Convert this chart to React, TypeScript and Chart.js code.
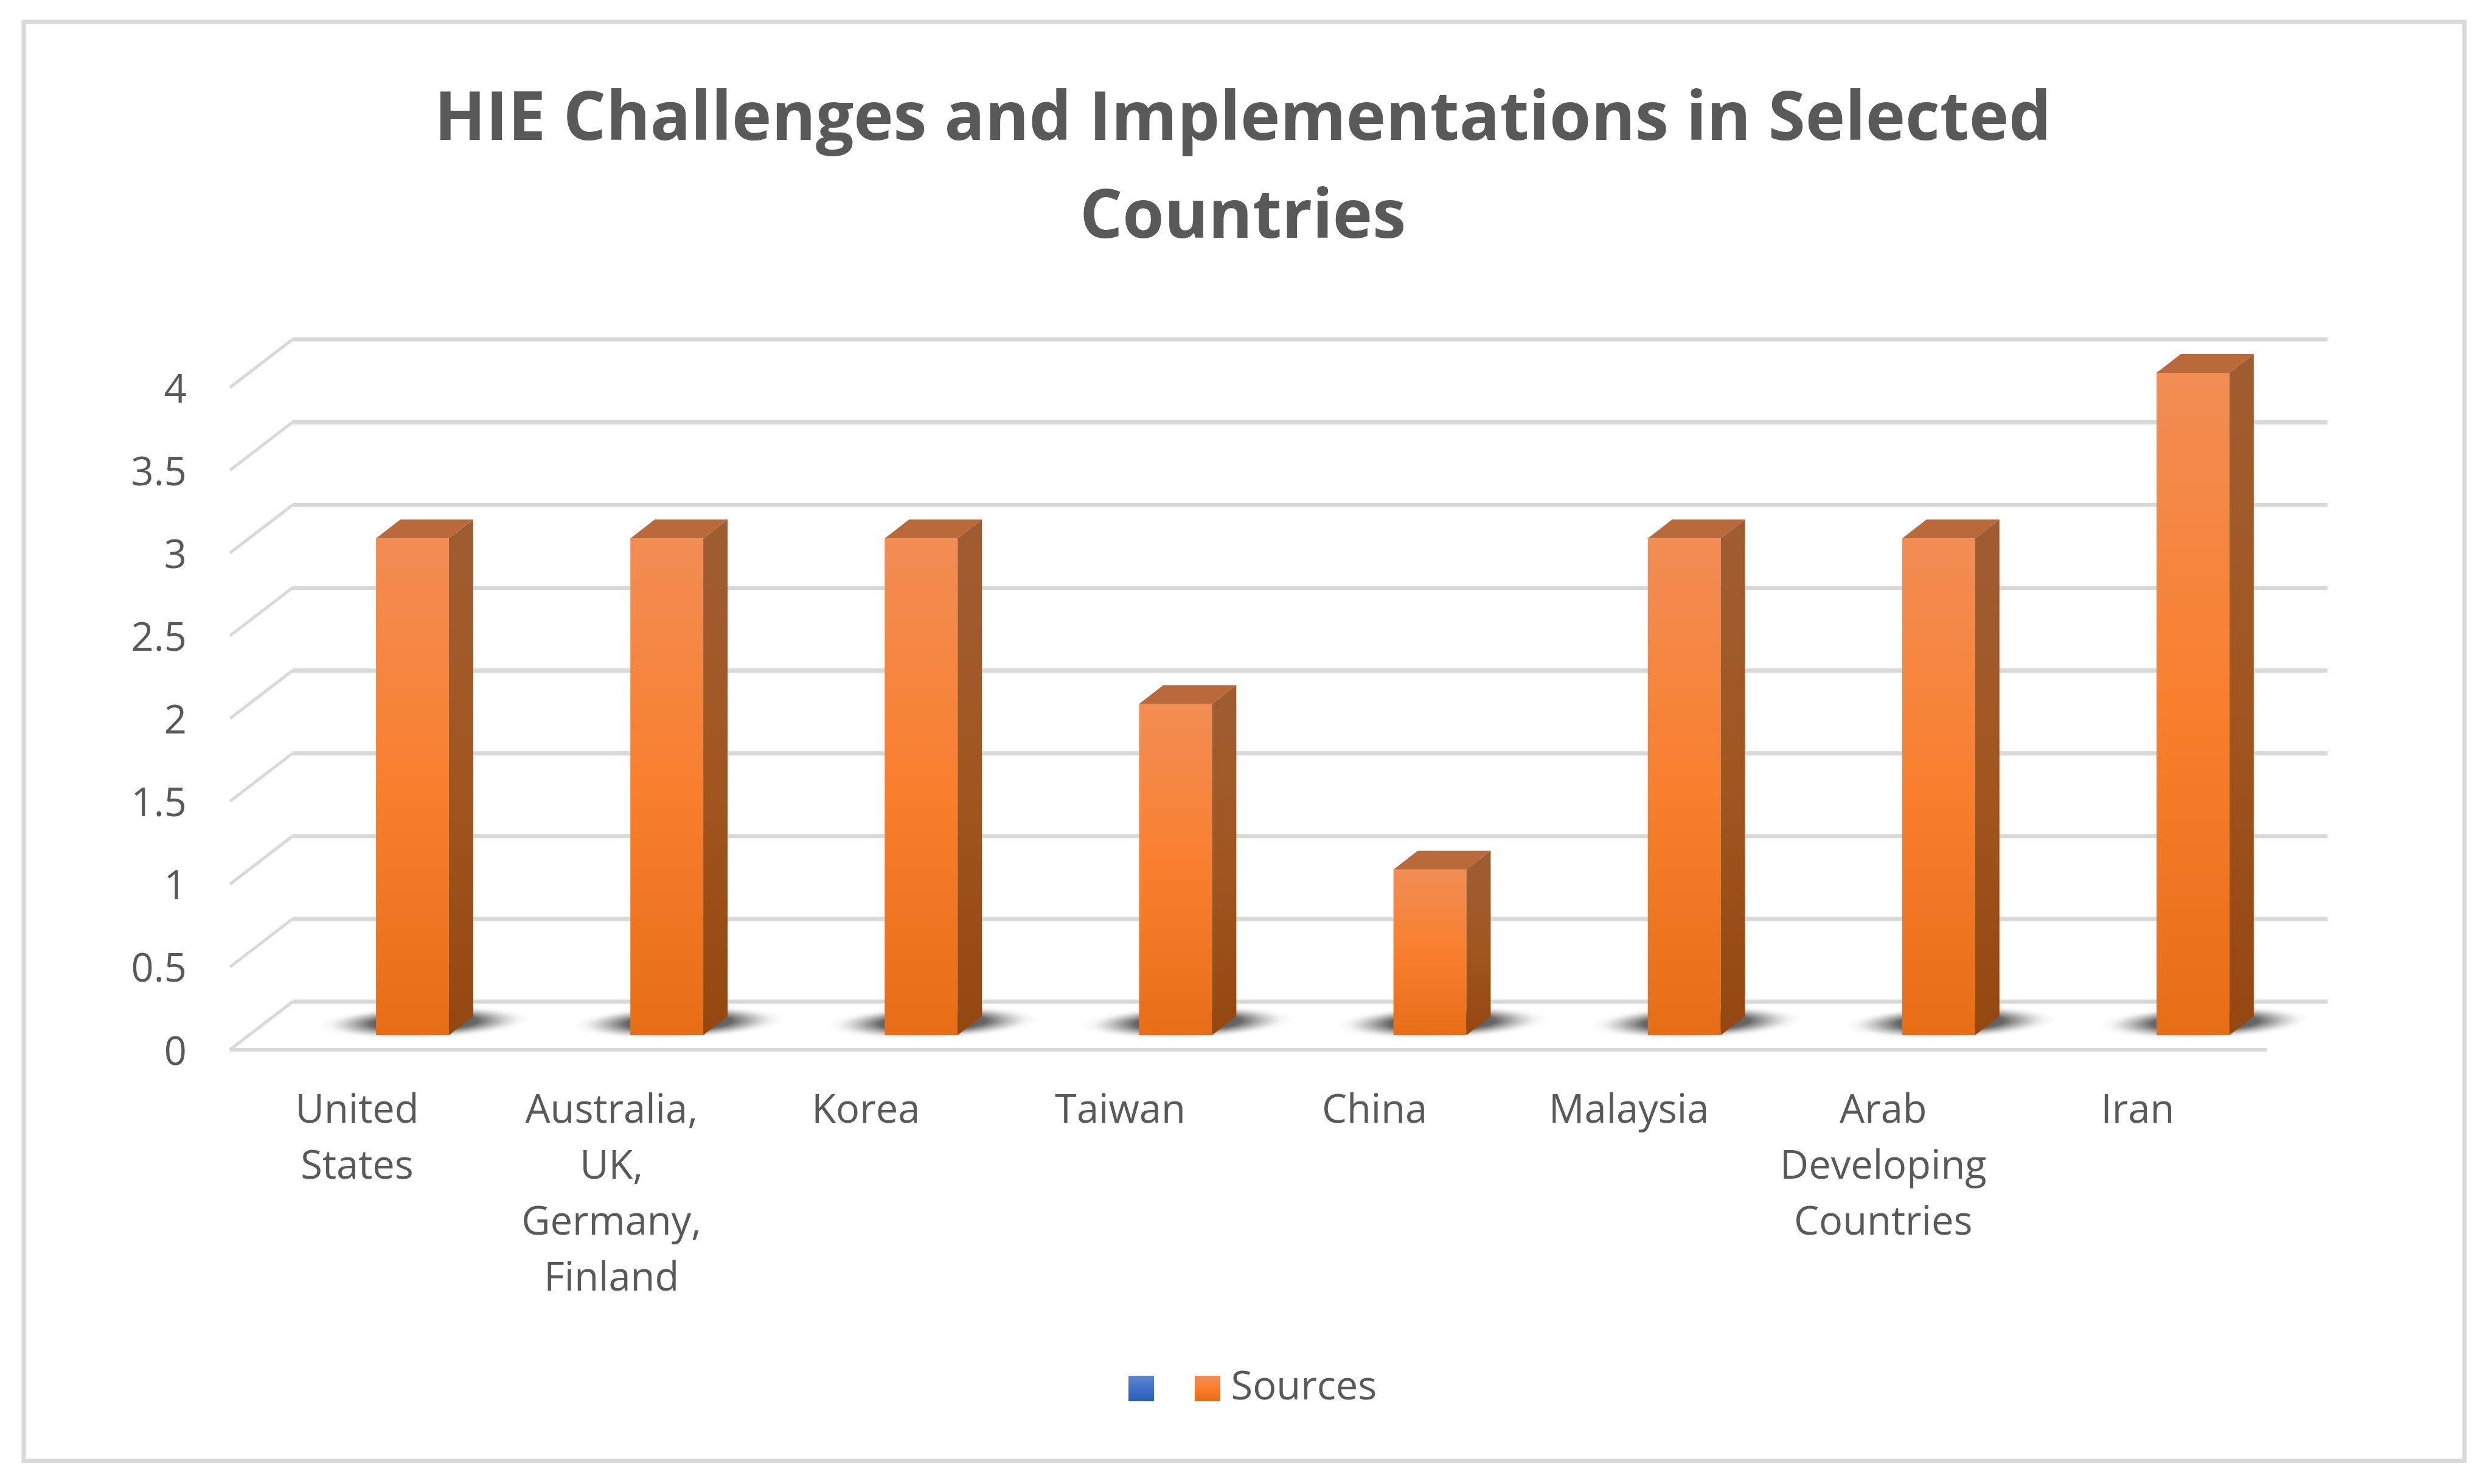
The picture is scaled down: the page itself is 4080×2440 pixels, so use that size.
import React, { useEffect, useRef } from "react";
import { Chart, registerables } from "chart.js";

Chart.register(...registerables);

const categories: (string | string[])[] = [
  ["United", "States"],
  ["Australia,", "UK,", "Germany,", "Finland"],
  "Korea",
  "Taiwan",
  "China",
  "Malaysia",
  ["Arab", "Developing", "Countries"],
  "Iran",
];
const emptySeries: (number | null)[] = [null, null, null, null, null, null, null, null];
const sourcesSeries = [3, 3, 3, 2, 1, 3, 3, 4];
const titleLines = ["HIE Challenges and Implementations in Selected", "Countries"];
const seriesNames = [" ", "Sources"];

const FONT = "'Open Sans', 'Noto Sans', sans-serif";
const TEXT = "#595959";
const GRID = "#d9d9d9";
const PLOT_RIGHT = 3723;
const WALL = { dx: 103, dy: -79 };
const BAR_SHIFT = { dx: 31, dy: -24 };
const BAR_DEPTH = { dx: 40, dy: -31 };
const LEGEND_BOX = 42;

function legendSwatch(stops: string[]) {
  const c = document.createElement("canvas");
  c.width = LEGEND_BOX;
  c.height = LEGEND_BOX;
  const x = c.getContext("2d")!;
  const g = x.createLinearGradient(0, 0, 0, LEGEND_BOX);
  g.addColorStop(0, stops[0]);
  g.addColorStop(0.5, stops[1]);
  g.addColorStop(1, stops[2]);
  x.fillStyle = g;
  x.fillRect(0, 0, LEGEND_BOX, LEGEND_BOX);
  return c;
}

const frame3d = {
  id: "frame3d",
  beforeDraw(chart: any) {
    const { ctx } = chart;
    ctx.save();
    ctx.fillStyle = "#ffffff";
    ctx.fillRect(0, 0, chart.width, chart.height);
    ctx.strokeStyle = GRID;
    ctx.lineWidth = 7;
    ctx.strokeRect(39, 36, 4012, 2366);
    ctx.restore();
    // value labels sit a little below their front-edge tick position
    chart.scales.y.getLabelItems(chart.chartArea).forEach((item: any) => {
      if (!item.nudged) {
        item.textOffset += 6;
        item.nudged = true;
      }
    });
  },
  afterLayout(chart: any) {
    // title is centred on the whole frame; the legend group sits right of centre
    chart.titleBlock.left = 0;
    chart.titleBlock.right = 4086;
    const lg = chart.legend;
    lg.left += 166;
    lg.right += 166;
  },
  beforeDatasetsDraw(chart: any) {
    const { ctx, scales } = chart;
    const { left, right, bottom } = chart.chartArea;
    const y = scales.y;
    ctx.save();
    ctx.lineCap = "butt";
    ctx.strokeStyle = GRID;
    y.ticks.forEach((t: any) => {
      const py = y.getPixelForValue(t.value);
      ctx.lineWidth = 7;
      ctx.beginPath();
      ctx.moveTo(left + WALL.dx, py + WALL.dy);
      ctx.lineTo(right + WALL.dx, py + WALL.dy);
      ctx.stroke();
      ctx.lineWidth = 5;
      ctx.beginPath();
      ctx.moveTo(left, py);
      ctx.lineTo(left + WALL.dx, py + WALL.dy);
      ctx.stroke();
    });
    ctx.lineWidth = 6;
    ctx.beginPath();
    ctx.moveTo(left, bottom);
    ctx.lineTo(right + 3, bottom);
    ctx.stroke();

    // soft contact shadows on the floor, cut off at the floor's edge
    ctx.beginPath();
    ctx.moveTo(left, bottom);
    ctx.lineTo(right, bottom);
    ctx.lineTo(right + WALL.dx, bottom + WALL.dy);
    ctx.lineTo(left + WALL.dx, bottom + WALL.dy);
    ctx.closePath();
    ctx.clip();
    chart.getDatasetMeta(1).data.forEach((bar: any) => {
      const cx = bar.x + BAR_SHIFT.dx + BAR_DEPTH.dx / 2;
      const cy = bar.base + BAR_SHIFT.dy - 21;
      const rx = 172;
      const ry = 28;
      ctx.save();
      ctx.translate(cx, cy);
      ctx.transform(1, 0, -1.2, 1, 0, 0);
      ctx.scale(1, ry / rx);
      const g = ctx.createRadialGradient(0, 0, 0, 0, 0, rx);
      g.addColorStop(0, "rgba(50,50,50,0.9)");
      g.addColorStop(0.5, "rgba(60,60,60,0.78)");
      g.addColorStop(0.72, "rgba(90,90,90,0.35)");
      g.addColorStop(0.88, "rgba(130,130,130,0.08)");
      g.addColorStop(1, "rgba(150,150,150,0)");
      ctx.fillStyle = g;
      ctx.beginPath();
      ctx.arc(0, 0, rx, 0, Math.PI * 2);
      ctx.fill();
      ctx.restore();
    });
    ctx.restore();

    // bars stand part-way back on the floor
    ctx.save();
    ctx.translate(BAR_SHIFT.dx, BAR_SHIFT.dy);
  },
  afterDatasetsDraw(chart: any) {
    const { ctx } = chart;
    chart.getDatasetMeta(1).data.forEach((bar: any) => {
      const r = bar.x + bar.width / 2;
      const l = bar.x - bar.width / 2;
      const { dx, dy } = BAR_DEPTH;
      const side = ctx.createLinearGradient(0, bar.y, 0, bar.base);
      side.addColorStop(0, "#a05c31");
      side.addColorStop(0.5, "#a1561f");
      side.addColorStop(1, "#94470f");
      ctx.fillStyle = side;
      ctx.beginPath();
      ctx.moveTo(r, bar.y);
      ctx.lineTo(r + dx, bar.y + dy);
      ctx.lineTo(r + dx, bar.base + dy);
      ctx.lineTo(r, bar.base);
      ctx.closePath();
      ctx.fill();
      ctx.fillStyle = "#b9693a";
      ctx.beginPath();
      ctx.moveTo(l, bar.y);
      ctx.lineTo(l + dx, bar.y + dy);
      ctx.lineTo(r + dx, bar.y + dy);
      ctx.lineTo(r, bar.y);
      ctx.closePath();
      ctx.fill();
    });
    ctx.restore();
  },
};

export default function App() {
  const ref = useRef<HTMLCanvasElement | null>(null);
  useEffect(() => {
    document.body.style.margin = "0";
    const canvas = ref.current!;
    const blueSwatch = legendSwatch(["#6188d0", "#4270c8", "#2b5fb6"]);
    const orangeSwatch = legendSwatch(["#f28d54", "#fb7e2d", "#e56b14"]);
    const chart = new Chart(canvas, {
      type: "bar",
      data: {
        labels: categories as any,
        datasets: [
          { label: seriesNames[0], data: emptySeries, backgroundColor: "#4472c4" },
          {
            label: seriesNames[1],
            data: sourcesSeries,
            clip: false,
            backgroundColor: (c: any) => {
              const y = c.chart.scales.y;
              if (!y || c.parsed == null) return "#f97f30";
              const g = c.chart.ctx.createLinearGradient(
                0,
                y.getPixelForValue(c.parsed.y),
                0,
                y.getPixelForValue(0)
              );
              g.addColorStop(0, "#f28d54");
              g.addColorStop(0.5, "#f97f2e");
              g.addColorStop(1, "#e86d17");
              return g;
            },
          } as any,
        ],
      },
      options: {
        responsive: false,
        animation: false,
        devicePixelRatio: 1,
        layout: {
          padding: { left: 78, right: 4080 - PLOT_RIGHT, top: 0, bottom: 115 },
        },
        datasets: { bar: { categoryPercentage: 0.5735, barPercentage: 1 } },
        scales: {
          x: {
            grid: { display: false, drawTicks: false },
            border: { display: false },
            afterFit: (s: any) => {
              s.height = 476;
            },
            ticks: {
              autoSkip: false,
              maxRotation: 0,
              minRotation: 0,
              padding: 55,
              color: TEXT,
              font: { family: FONT, size: 65, lineHeight: 92 / 65 },
            },
          },
          y: {
            min: 0,
            max: 4,
            grid: { display: false, drawTicks: false },
            border: { display: false },
            afterFit: (s: any) => {
              s.width = 300;
            },
            ticks: {
              stepSize: 0.5,
              padding: 71,
              color: TEXT,
              font: { family: FONT, size: 65 },
              callback: (v: any) => String(v),
            },
          },
        },
        plugins: {
          title: {
            display: true,
            text: titleLines,
            color: TEXT,
            padding: { top: 118, bottom: 197 },
            font: { family: FONT, size: 110.5, weight: "bold", lineHeight: 161 / 110.5 },
          },
          legend: {
            display: true,
            position: "bottom",
            labels: {
              usePointStyle: true,
              pointStyleWidth: 12,
              boxHeight: LEGEND_BOX,
              padding: 48,
              color: TEXT,
              font: { family: FONT, size: 65 },
              generateLabels: () => [
                {
                  text: seriesNames[0],
                  datasetIndex: 0,
                  lineWidth: 0,
                  fontColor: TEXT,
                  pointStyle: blueSwatch,
                  fillStyle: "#4472c4",
                },
                {
                  text: seriesNames[1],
                  datasetIndex: 1,
                  lineWidth: 0,
                  fontColor: TEXT,
                  pointStyle: orangeSwatch,
                  fillStyle: "#f97f2e",
                },
              ],
            },
          },
          tooltip: { enabled: false },
        },
      } as any,
      plugins: [frame3d],
    });
    return () => chart.destroy();
  }, []);
  return (
    <div style={{ position: "absolute", left: 0, top: 0, width: 4080, height: 2440 }}>
      <canvas ref={ref} width={4080} height={2440} style={{ display: "block" }} />
    </div>
  );
}
